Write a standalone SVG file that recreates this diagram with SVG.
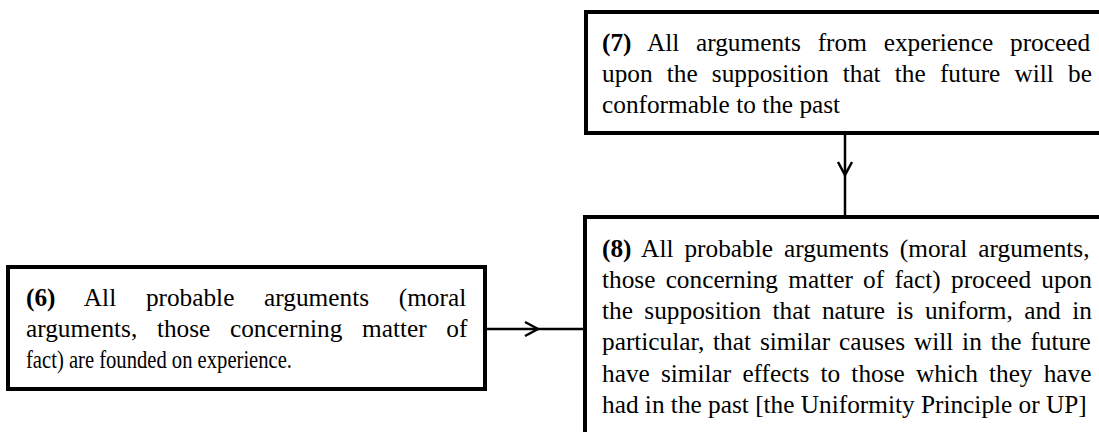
<svg xmlns="http://www.w3.org/2000/svg" width="1099" height="432" viewBox="0 0 1099 432">
  <defs>
    <style>
      .box { fill: #ffffff; stroke: #000000; stroke-width: 4; }
      .txt { font-family: "Liberation Serif", "Times New Roman", serif; font-size: 25.3px; fill: #000000; }
      .num { font-weight: bold; }
      .link { fill: none; stroke: #000000; stroke-width: 2.5; }
      .head { fill: none; stroke: #000000; stroke-width: 2.5; stroke-linejoin: miter; }
    </style>
  </defs>
  <rect width="1099" height="432" fill="#ffffff"/>

  <!-- claim 7 (runs off the right edge) -->
  <g id="node7">
    <rect class="box" x="586" y="12" width="530" height="121"/>
    <text class="txt" x="602" y="51" style="word-spacing:10.46px"><tspan class="num">(7)</tspan> All arguments from experience proceed</text>
    <text class="txt" x="602" y="82" style="word-spacing:7.86px">upon the supposition that the future will be</text>
    <text class="txt" x="602" y="113">conformable to the past</text>
  </g>

  <!-- claim 8 (runs off the right and bottom edges) -->
  <g id="node8">
    <rect class="box" x="585" y="217" width="530" height="230"/>
    <text class="txt" x="602" y="257" style="word-spacing:4.68px"><tspan class="num">(8)</tspan> All probable arguments (moral arguments,</text>
    <text class="txt" x="602" y="288" style="word-spacing:3.92px">those concerning matter of fact) proceed upon</text>
    <text class="txt" x="602" y="319" style="word-spacing:5.14px">the supposition that nature is uniform, and in</text>
    <text class="txt" x="602" y="350" style="word-spacing:2.54px">particular, that similar causes will in the future</text>
    <text class="txt" x="602" y="382" style="word-spacing:4.86px">have similar effects to those which they have</text>
    <text class="txt" x="602" y="413">had in the past [the Uniformity Principle or UP]</text>
  </g>

  <!-- claim 6 -->
  <g id="node6">
    <rect class="box" x="8" y="267" width="477" height="122"/>
    <text class="txt" x="26" y="306" style="word-spacing:23.4px"><tspan class="num">(6)</tspan> All probable arguments (moral</text>
    <text class="txt" x="26" y="337" style="word-spacing:13.35px">arguments, those concerning matter of</text>
    <!-- last line is set condensed -->
    <text class="txt" x="26" y="368" textLength="266" lengthAdjust="spacingAndGlyphs">fact) are founded on experience.</text>
  </g>

  <!-- support links -->
  <g id="connectors">
    <line class="link" x1="845" y1="135" x2="845" y2="215"/>
    <polyline class="head" points="838,162 845,175 852,162"/>
    <line class="link" x1="487" y1="329" x2="583" y2="329"/>
    <polyline class="head" points="525,322 538,329 525,336"/>
  </g>
</svg>
